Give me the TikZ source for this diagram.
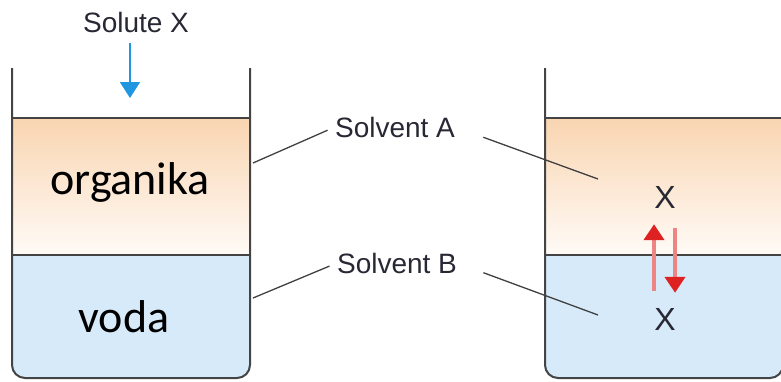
\documentclass[tikz,border=0pt]{standalone}
\usepackage{fontspec}
\setmainfont{Liberation Sans}
\newfontfamily\phasefont{Carlito}
\usetikzlibrary{arrows.meta}

\definecolor{orgtop}{RGB}{249,213,177}
\definecolor{orgbot}{RGB}{255,251,247}
\definecolor{water}{RGB}{214,234,249}
\definecolor{wall}{RGB}{68,68,68}
\definecolor{dropblue}{RGB}{32,150,224}
\definecolor{eqred}{RGB}{222,34,34}
\definecolor{ink}{RGB}{40,40,52}

\tikzset{
  beakerwall/.style={draw=wall,line width=2pt,rounded corners=13pt},
  surface/.style={draw=wall,line width=1.6pt},
  leader/.style={draw=black!75,line width=1.3pt},
  tag/.style={text=ink,inner sep=0pt,font=\fontsize{28}{30}\selectfont},
  phase/.style={text=black,inner sep=0pt,anchor=base,font=\phasefont\fontsize{46}{50}\selectfont},
  eqline/.style={draw=eqred!55,line width=4pt,-{Triangle[width=20pt,length=16pt,color=eqred]}},
}

\begin{document}
\begin{tikzpicture}[x=1pt,y=-1pt]
    \useasboundingbox (0,0) rectangle (781,381);
    \clip (0,0) rectangle (781,381);

    \foreach \bx in {0,533}{
      \begin{scope}[xshift=\bx pt]
        \begin{scope}
          \clip[rounded corners=13pt] (12,68) rectangle (250,378);
          \shade[top color=orgtop,bottom color=orgbot] (12,118) rectangle (250,255);
          \fill[water] (12,255) rectangle (250,378);
        \end{scope}
        \draw[surface] (12,118) -- (250,118);
        \draw[surface] (12,255) -- (250,255);
        \draw[beakerwall] (12,68) -- (12,378) -- (250,378) -- (250,68);
      \end{scope}
    }

    \coordinate (drop) at (130,98);
    \coordinate (AL) at (253,163);
    \coordinate (AR) at (598,179);
    \coordinate (BL) at (253,298);
    \coordinate (BR) at (598,315);

    \node[tag] (solute) at (136,22) {Solute X};
    \draw[dropblue,line width=1.8pt,-{Triangle[width=20pt,length=16pt]},shorten <=11pt]
        (solute.south -| drop) -- (drop);

    \node[phase] (org) at (130,194) {organika};
    \node[phase] (voda) at (124,332) {voda};

    \node[tag] (solvA) at (395,127) {Solvent A};
    \node[tag] (solvB) at (397,263) {Solvent B};
    \draw[leader,shorten >=8pt] (AL) -- (solvA.west);
    \draw[leader,shorten <=30pt] (solvA.east) -- (AR);
    \draw[leader,shorten >=8pt] (BL) -- (solvB.west);
    \draw[leader,shorten <=28pt] (solvB.east) -- (BR);

    \node[tag,font=\fontsize{32}{34}\selectfont] (xA) at (665,197) {X};
    \node[tag,font=\fontsize{32}{34}\selectfont] (xB) at (665,319) {X};
    \draw[eqline,shorten <=17pt,shorten >=16pt]
        ([xshift=-11pt]xB.north) -- ([xshift=-11pt]xA.south);
    \draw[eqline,shorten <=20pt,shorten >=15pt]
        ([xshift=10pt]xA.south) -- ([xshift=10pt]xB.north);
\end{tikzpicture}
\end{document}
